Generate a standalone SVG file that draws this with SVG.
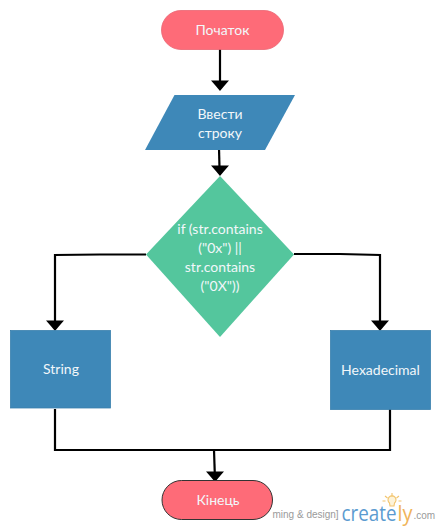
<svg xmlns="http://www.w3.org/2000/svg" width="440" height="530" viewBox="0 0 440 530">
<style>
.t{font-family:Lato,"Noto Sans",sans-serif;font-size:14px;fill:#f2f7fa;text-anchor:middle}
.b{fill:#3e88b8;stroke:#3a80ad;stroke-width:.8}
.c{fill:none;stroke:#000;stroke-width:2.200}
.w{font-family:"Liberation Sans",sans-serif;font-size:10px;fill:#9a9a9a}
.l{font-family:"Open Sans",sans-serif;font-size:22px}
</style>
<defs>
<path id="h" d="M-9 -10.500H9Q4.500 -5.500 0 0Q-4.500 -5.500 -9 -10.500Z" fill="#000"/>
</defs>
<rect width="440" height="530" fill="#fff"/>
<g id="watermark">
<text class="w" x="272.500" y="518">ming &amp; design]</text>
<text class="l" x="341.500" y="520.500" fill="#5b9bd0" textLength="55" lengthAdjust="spacingAndGlyphs">create</text>
<text class="l" x="397.500" y="520.500" fill="#f0b45a" textLength="15" lengthAdjust="spacingAndGlyphs">ly</text>
<text class="w" x="413.500" y="519">.com</text>
<g id="bulb" fill="none" stroke="#f2c46d" stroke-width="1.100">
<path d="M389.500 503a4 4 0 1 1 5 0l-.5 3h-4z" fill="#fdf3d8"/>
<path d="M392 493v3.500M385 496l2.500 2M399 496l-2.500 2M382.500 501h3M401.500 501h-3"/>
</g>
</g>
<g id="connectors">
<path class="c" d="M220 49V84"/><use href="#h" x="220" y="91"/>
<path class="c" d="M219 148L219.500 168"/><use href="#h" x="220" y="176"/>
<path class="c" d="M146 254.500H100L55 255V323"/><use href="#h" x="55" y="331"/>
<path class="c" d="M294 254H340L380 255V323"/><use href="#h" x="380" y="331"/>
<path class="c" d="M55 409V450H390V409"/>
<path class="c" d="M214 450L214.800 474"/><use href="#h" x="215" y="482"/>
</g>
<g id="start">
<rect x="161.500" y="10.500" width="122" height="39" rx="19.500" fill="#fe6b78" stroke="#ea6472" stroke-width=".8"/>
<text class="t" x="222.500" y="35">Початок</text>
</g>
<g id="input">
<polygon points="174.500,95 295,95 265,150 145,150" fill="#3e88b8"/>
<text class="t" x="220" y="119">Ввести</text>
<text class="t" x="220" y="138">строку</text>
</g>
<g id="decision">
<polygon points="220,176 294,254.500 220,337 146,254.500" fill="#54c69d"/>
<text class="t" x="220" y="234">if (str.contains</text>
<text class="t" x="220" y="253">("0x") ||</text>
<text class="t" x="220" y="272">str.contains</text>
<text class="t" x="220" y="291">("0X"))</text>
</g>
<g id="string">
<rect class="b" x="10.500" y="330.500" width="100" height="77.500"/>
<text class="t" x="61" y="374">String</text>
</g>
<g id="hex">
<rect class="b" x="330.500" y="330.500" width="100" height="79"/>
<text class="t" x="380.500" y="375">Hexadecimal</text>
</g>
<g id="end">
<rect x="162" y="480.500" width="110.500" height="39" rx="19.500" fill="#fe6b78" stroke="#333" stroke-width="1"/>
<text class="t" x="218" y="505">Кінець</text>
</g>
</svg>
